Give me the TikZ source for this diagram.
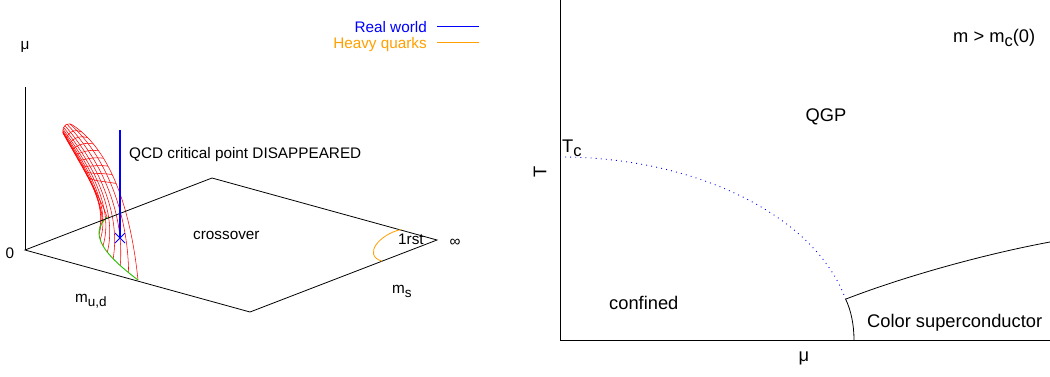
\documentclass[tikz,border=0pt]{standalone}
\usepackage{fontspec}
\setmainfont{Liberation Sans}
\usetikzlibrary{calc}
\definecolor{heavy}{RGB}{255,160,0}
\definecolor{realw}{RGB}{0,0,255}
\definecolor{grn}{RGB}{40,190,0}
\newcommand\lsub[1]{\raisebox{-0.5ex}{\fontsize{13.5}{14}\selectfont #1}}
\newcommand\rsub[1]{\raisebox{-0.5ex}{\fontsize{16.5}{17}\selectfont #1}}
\begin{document}
\begin{tikzpicture}[x=1pt,y=-1pt,
  lbl/.style={font=\fontsize{15.3}{18}\selectfont, inner sep=0pt},
  rlbl/.style={font=\fontsize{18.3}{22}\selectfont, inner sep=0pt},
  axisline/.style={line width=0.8pt, black},
  meshline/.style={red, line width=0.55pt},
  legline/.style={line width=0.9pt}]
\useasboundingbox (0,0) rectangle (1050,376);
% ---------- left panel ----------
\coordinate (O) at (25,250);
\coordinate (A) at (212,178);
\coordinate (B) at (437,240);
\coordinate (C) at (250,312);
\coordinate (mutop) at (25,87);
% red mesh
\foreach \i in {0,...,10}{
  \pgfmathsetmacro\t{\i/10}
  \pgfmathsetmacro\tc{(\i/10)^2.5}
  \path (63,133) .. controls (62,125) and (68,121) .. (74,126) coordinate[pos=\tc] (s\i);
  \path (107,217) .. controls (88,235) and (105,255) .. (138,280) coordinate[pos=\t] (g\i);
  \coordinate (ca\i) at ($(78,160)!\tc!(112,152)$);
  \coordinate (cb\i) at ($(100,196)!\t!(131,212)$);
  \draw[meshline] (s\i) .. controls (ca\i) and (cb\i) .. (g\i);
}
\foreach \i in {0,...,10}{
  \foreach \j in {0,...,7}{
    \pgfmathsetmacro\u{0.07+\j*0.058}
    \path (s\i) .. controls (ca\i) and (cb\i) .. (g\i) coordinate[pos=\u] (p\i-\j);
  }
}
\foreach \i [evaluate=\i as \k using int(\i+1)] in {0,...,9}{
  \foreach \j in {0,...,7}{
    \draw[meshline] (p\i-\j) -- (p\k-\j);
  }
}
\draw[meshline] (s0) .. controls (62,125) and (68,121) .. (s10);
% green curve
\draw[grn, line width=0.9pt] (g0) .. controls (88,235) and (105,255) .. (g10);
% plane and axis
\draw[axisline] (mutop) -- (O);
\draw[axisline] (O) -- (A) -- (B) -- (C) -- cycle;
% orange first-order line
\coordinate (h1) at (401,229.5);
\coordinate (h2) at (382,261.2);
\draw[heavy, line width=0.8pt] (h1) .. controls (380,234) and (362,255) .. (h2);
% blue real-world line
\coordinate (qtop) at (120,130);
\coordinate (qx) at (120,238);
\draw[realw, line width=1.3pt] (qtop) -- (qx);
\draw[realw, line width=1pt] ($(qx)+(-5,-5)$) -- ($(qx)+(5,5)$);
\draw[realw, line width=1pt] ($(qx)+(-5,5)$) -- ($(qx)+(5,-5)$);
% labels
\node[lbl] (lmu) at (25,47) {μ};
\node[lbl] (lzero) at (10,253) {0};
\node[lbl, anchor=base west] (lqcd) at (129,158.5) {QCD critical point DISAPPEARED};
\node[lbl, anchor=base west] (lcross) at (193,239) {crossover};
\node[lbl, anchor=base west] (lfirst) at (398,244) {1rst};
\node[lbl] (linf) at (455,243) {∞};
\node[lbl, anchor=base west] (lms) at (392,293) {m\lsub{s}};
\node[lbl, anchor=base west] (lmud) at (75,302) {m\lsub{u,d}};
% legend
\node[lbl, anchor=base east, text=realw] (lreal) at (427,32) {Real world};
\node[lbl, anchor=base east, text=heavy] (lheavy) at (427,48) {Heavy quarks};
\coordinate (r1) at (437,26); \coordinate (r2) at (479,26);
\coordinate (k1) at (437,42); \coordinate (k2) at (479,42);
\draw[realw, legline] (r1) -- (r2);
\draw[heavy, legline] (k1) -- (k2);
% ---------- right panel ----------
\coordinate (ttop) at (560,0);
\coordinate (orig) at (560,340);
\coordinate (mright) at (1050,340);
\draw[axisline] (ttop) -- (orig) -- (mright);
\coordinate (tc) at (560,157);
\draw[realw, line width=0.9pt, dash pattern=on 0.9pt off 4.2pt] (tc) arc[start angle=-90, end angle=-12.9, x radius=293, y radius=183] coordinate (tri);
\coordinate (csb) at (854,340);
\coordinate (csr) at (1050,242);
\draw[axisline] (tri) .. controls (851,310) and (854,325) .. (csb);
\draw[axisline] (tri) .. controls (900,278) and (980,255) .. (csr);
\node[rlbl, rotate=90] (lT) at (540,172) {T};
\node[rlbl, anchor=base west] (lTc) at (562,152) {T\rsub{c}};
\node[rlbl, anchor=base] (lqgp) at (826,121.5) {QGP};
\node[rlbl, anchor=base west] (lmc) at (953,42) {m > m\rsub{c}(0)};
\node[rlbl, anchor=base west] (lconf) at (609,309) {confined};
\node[rlbl, anchor=base west] (lcsc) at (867,327) {Color superconductor};
\node[rlbl] (lmur) at (804,358) {μ};
\end{tikzpicture}
\end{document}
